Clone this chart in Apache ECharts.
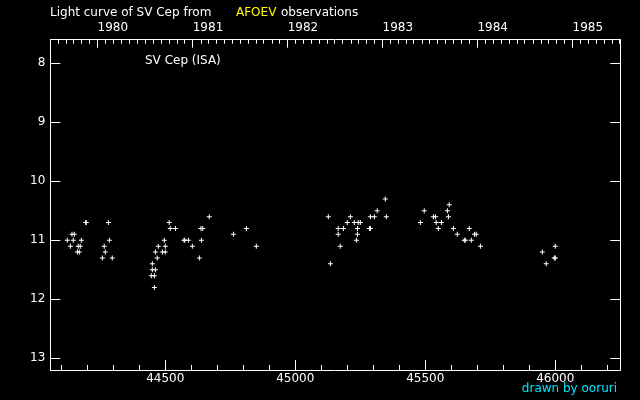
<!DOCTYPE html>
<html>
<head>
<meta charset="utf-8">
<script src="https://cdn.jsdelivr.net/npm/echarts@6/dist/echarts.min.js"></script>
<style>html,body{margin:0;padding:0;background:#000;}#c{width:640px;height:400px;}</style>
</head>
<body>
<div id="c"></div>
<script>
// Julian Date - 2400000
const jd = [44123,44135,44141,44150,44146,44162,44169,44165,44173,44177,44194,44196,
  44258,44265,44269,44281,44285,44296,
  44446,44458,44450,44462,44450,44458,44462,44469,44473,44489,44500,44496,44500,44515,44519,44539,
  44572,44575,44589,44604,44631,44639,44637,44644,44669,44762,44812,44850,
  45127,45135,45165,45165,45173,45185,45200,45212,45227,45242,45250,45235,45239,45239,
  45285,45289,45289,45304,45315,45346,45350,
  45481,45496,45531,45539,45542,45550,45562,45585,45589,45592,45608,45623,45650,45654,
  45669,45677,45689,45696,45712,45950,45965,45996,46000,46000];
const mag = [11.0,11.1,10.9,10.9,11.0,11.2,11.2,11.1,11.1,11.0,10.7,10.7,
  11.3,11.1,11.2,10.7,11.0,11.3,
  11.6,11.6,11.5,11.5,11.4,11.8,11.2,11.3,11.1,11.2,11.2,11.0,11.1,10.7,10.8,10.8,
  11.0,11.0,11.0,11.1,11.3,11.0,10.8,10.8,10.6,10.9,10.8,11.1,
  10.6,11.4,10.8,10.9,11.1,10.8,10.7,10.6,10.7,10.7,10.7,11.0,10.8,10.9,
  10.8,10.8,10.6,10.6,10.5,10.3,10.6,
  10.7,10.5,10.6,10.6,10.7,10.8,10.7,10.5,10.6,10.4,10.8,10.9,11.0,11.0,
  10.8,11.0,10.9,10.9,11.1,11.2,11.4,11.3,11.3,11.1];
const jdTicks = [44500,45000,45500,46000];
const magTicks = [8,9,10,11,12,13];
const yearLabels = ['1980','1981','1982','1983','1984','1985'];
const yearStartJD = [44239.5,44605.5,44970.5,45335.5,45700.5,46066.5];

const XMIN = 44057.7, XMAX = 46250, YMIN = 7.6, YMAX = 13.2;
const minorTicks = [];
for (let v = 44100; v <= 46200; v += 100) minorTicks.push(v);
const monthLen = [31,28,31,30,31,30,31,31,30,31,30,31];
const monthTicks = [];
{
  let d = 44239.5 - 153; // 1979 Aug 1
  const pre = [31,30,31,30,31];
  for (const m of pre) { monthTicks.push(d); d += m; }
  for (let y = 1980; y <= 1985; y++) {
    for (let m = 0; m < 12; m++) {
      if (d > XMAX) break;
      monthTicks.push(d);
      d += (m === 1 && y % 4 === 0) ? 29 : monthLen[m];
    }
  }
}
const pts = jd.map((v, i) => [v, mag[i]]);
const F = 'DejaVu Sans';
const chart = echarts.init(document.getElementById('c'));
chart.setOption({
  backgroundColor: '#000',
  animation: false,
  grid: {left: 50.3, right: 19.7, top: 39.7, bottom: 30},
  xAxis: [
    {type: 'value', position: 'bottom', min: XMIN, max: XMAX,
      axisLine: {show: true, onZero: false, lineStyle: {color: '#fff', width: 1}},
      axisTick: {show: true, inside: true, length: 10, customValues: jdTicks, lineStyle: {color: '#fff'}},
      axisLabel: {show: true, customValues: jdTicks, color: '#fff', fontFamily: F, fontSize: 12, margin: 3,
        formatter: v => String(v)},
      splitLine: {show: false}},
    {type: 'value', position: 'bottom', min: XMIN, max: XMAX,
      axisLine: {show: false, onZero: false},
      axisTick: {show: true, inside: true, length: 5, customValues: minorTicks, lineStyle: {color: '#fff'}},
      axisLabel: {show: false}, splitLine: {show: false}},
    {type: 'value', position: 'top', min: XMIN, max: XMAX,
      axisLine: {show: true, onZero: false, lineStyle: {color: '#fff', width: 1}},
      axisTick: {show: true, inside: true, length: 8, customValues: yearStartJD, lineStyle: {color: '#fff'}},
      axisLabel: {show: true, customValues: yearStartJD, align: 'left', color: '#fff', fontFamily: F, fontSize: 12, margin: 6,
        formatter: v => yearLabels[yearStartJD.indexOf(v)]},
      splitLine: {show: false}},
    {type: 'value', position: 'top', min: XMIN, max: XMAX,
      axisLine: {show: false, onZero: false},
      axisTick: {show: true, inside: true, length: 4, customValues: monthTicks, lineStyle: {color: '#fff'}},
      axisLabel: {show: false}, splitLine: {show: false}}
  ],
  yAxis: [
    {type: 'value', position: 'left', inverse: true, min: YMIN, max: YMAX,
      axisLine: {show: true, onZero: false, lineStyle: {color: '#fff', width: 1}},
      axisTick: {show: true, inside: true, length: 10, customValues: magTicks, lineStyle: {color: '#fff'}},
      axisLabel: {show: true, customValues: magTicks, color: '#fff', fontFamily: F, fontSize: 12, margin: 5},
      splitLine: {show: false}},
    {type: 'value', position: 'right', inverse: true, min: YMIN, max: YMAX,
      axisLine: {show: true, onZero: false, lineStyle: {color: '#fff', width: 1}},
      axisTick: {show: true, inside: true, length: 10, customValues: magTicks, lineStyle: {color: '#fff'}},
      axisLabel: {show: false}, splitLine: {show: false}}
  ],
  series: [{
    type: 'scatter', xAxisIndex: 0, yAxisIndex: 0, data: pts,
    symbol: 'path://M2,0h1v2h2v1h-2v2h-1v-2h-2v-1h2z', symbolSize: 5,
    itemStyle: {color: '#fff', opacity: 1}, silent: true
  }],
  graphic: [
    {type: 'text', left: 50, top: 7, style: {text: 'Light curve of SV Cep from', fill: '#fff', font: '12px "DejaVu Sans"'}},
    {type: 'text', left: 236, top: 7, style: {text: 'AFOEV', fill: '#ffff00', font: '12px "DejaVu Sans"'}},
    {type: 'text', left: 281, top: 7, style: {text: 'observations', fill: '#fff', font: '12px "DejaVu Sans"'}},
    {type: 'text', left: 145, top: 55, style: {text: 'SV Cep (ISA)', fill: '#fff', font: '12px "DejaVu Sans"'}},
    {type: 'text', right: 23, top: 383, style: {text: 'drawn by ooruri', fill: '#00e5ff', font: '12px "DejaVu Sans"'}}
  ]
});
</script>
</body>
</html>
